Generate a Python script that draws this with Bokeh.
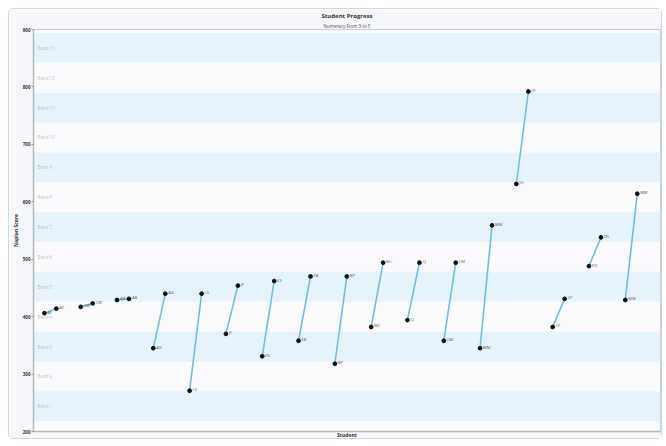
from bokeh.plotting import figure
from bokeh.models import Range1d, ColumnDataSource, Title, FixedTicker
from bokeh.embed import file_html
from bokeh.resources import INLINE
from bokeh.core.properties import value

# ---- data ----
students = ["AF", "CW", "AB", "AG", "LS", "JF", "ES", "EB", "BP", "MC",
            "CJ", "CM", "MM", "JH", "CF", "DV", "MW"]
year3 = [406, 417, 429, 345, 271, 370, 331, 358, 318, 382, 394, 358, 345, 631, 382, 488, 429]
year5 = [414, 423, 431, 440, 440, 454, 462, 470, 470, 494, 494, 494, 559, 792, 431, 538, 614]

band_names = ["Band 1", "Band 2", "Band 3", "Band 4", "Band 5", "Band 6", "Band 7",
              "Band 8", "Band 9", "Band 10", "Band 11", "Band 12", "Band 13"]
band_low = [218, 270, 322, 374, 426, 478, 530, 582, 634, 686, 738, 790, 842]
band_high = [270, 322, 374, 426, 478, 530, 582, 634, 686, 738, 790, 842, 894]
y_ticks = [200, 300, 400, 500, 600, 700, 800, 900]

FONT = "Open Sans"
X0, X1 = -0.30, 16.97
step = 0.33

idx = list(range(len(students)))
x_start = [i for i in idx]
x_end = [i + step for i in idx]

src = ColumnDataSource(dict(x0=x_start, x1=x_end, y0=year3, y1=year5, name=students))

p = figure(width=654, height=431, x_range=Range1d(X0, X1), y_range=Range1d(200, 900),
           output_backend="svg", toolbar_location=None,
           min_border_left=24, min_border_right=3, min_border_top=20, min_border_bottom=9,
           background_fill_color="#fbfbfe", border_fill_color="#f6f7fb")
p.styles = {"border": "1px solid #cbd8e8", "border-radius": "5px", "margin": "8px 0 0 8px"}

p.title.text = "Student Progress"
p.title.align = "center"
p.title.text_font = FONT
p.title.text_font_size = "6px"
p.title.text_font_style = "bold"
p.title.text_color = "#333333"
p.title.standoff = 0
p.add_layout(Title(text="Numeracy From 3 to 5", align="center", text_font=FONT,
                   text_font_size="4.5px", text_font_style="normal",
                   text_color="#555555", standoff=2), "above")

# bands
blue = [i for i in range(len(band_names)) if i % 2 == 0]
p.quad(left=X0, right=X1,
       bottom=[band_low[i] for i in blue], top=[band_high[i] for i in blue],
       fill_color="#e7f3fa", line_color=None)
p.text(x=[X0] * len(band_names), y=[(a + b) / 2 for a, b in zip(band_low, band_high)],
       text=band_names, x_offset=4, text_baseline="middle", text_align="left",
       text_font=value(FONT), text_font_size="4.5px", text_color="#c4c4c4")

# series
p.segment(x0="x0", y0="y0", x1="x1", y1="y1", source=src, line_color="#74bde0", line_width=1.6)
p.scatter(x="x0", y="y0", source=src, size=3.8, color="#111111")
p.scatter(x="x1", y="y1", source=src, size=3.8, color="#111111")
for xc, yc in (("x0", "y0"), ("x1", "y1")):
    p.text(x=xc, y=yc, text="name", source=src, x_offset=3, y_offset=-1,
           text_baseline="middle", text_align="left",
           text_font=value(FONT), text_font_size="4px", text_color="#555555")

# axes
p.grid.visible = False
p.outline_line_color = "#cccccc"
p.yaxis.ticker = FixedTicker(ticks=y_ticks)
p.yaxis.axis_label = "Naplan Score"
p.yaxis.axis_label_text_font = FONT
p.yaxis.axis_label_text_font_size = "5px"
p.yaxis.axis_label_text_font_style = "bold"
p.yaxis.axis_label_text_color = "#333333"
p.yaxis.axis_label_standoff = 1
p.yaxis.major_label_text_font = FONT
p.yaxis.major_label_text_font_size = "4.5px"
p.yaxis.major_label_text_font_style = "bold"
p.yaxis.major_label_text_color = "#333333"
p.yaxis.major_label_standoff = 1
p.yaxis.major_tick_out = 2
p.yaxis.major_tick_in = 0
p.yaxis.minor_tick_line_color = None
p.yaxis.axis_line_color = "#b8b8b8"
p.yaxis.axis_line_width = 1.5
p.yaxis.major_tick_line_color = "#999999"

p.xaxis.ticker = FixedTicker(ticks=[])
p.xaxis.axis_label = "Student"
p.xaxis.axis_label_text_font = FONT
p.xaxis.axis_label_text_font_size = "5px"
p.xaxis.axis_label_text_font_style = "bold"
p.xaxis.axis_label_text_color = "#333333"
p.xaxis.axis_label_standoff = 0
p.xaxis.major_tick_line_color = None
p.xaxis.minor_tick_line_color = None
p.xaxis.axis_line_color = "#b8b8b8"
p.xaxis.axis_line_width = 1.5

open("out.html", "w").write(file_html(p, INLINE))
